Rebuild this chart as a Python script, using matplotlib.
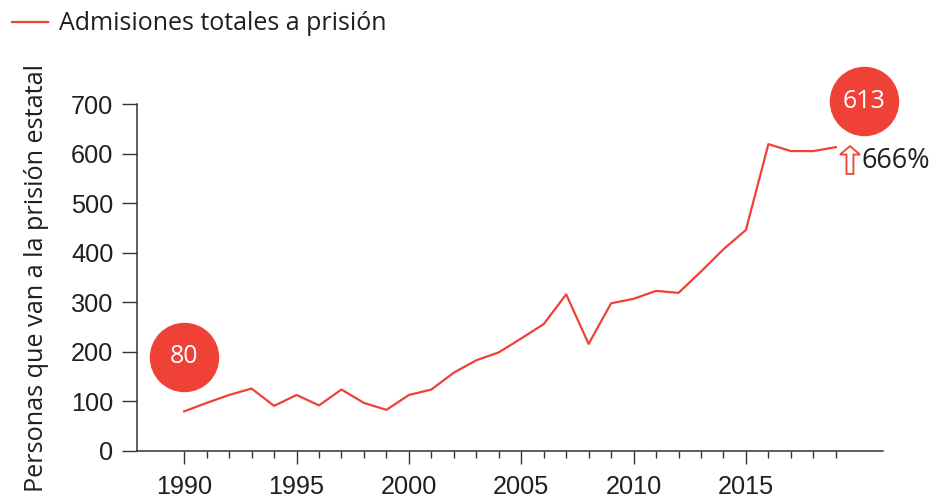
import matplotlib
matplotlib.use("Agg")
import matplotlib.pyplot as plt
import matplotlib.patches as mpatches

# ---- data ----
years = list(range(1990, 2020))
admissions = [80, 97, 113, 126, 91, 113, 92, 124, 97, 83,
              113, 124, 158, 183, 199, 227, 256, 316, 216, 298,
              307, 323, 319, 362, 407, 446, 619, 605, 605, 613]
series_label = "Admisiones totales a prisión"
y_label = "Personas que van a la prisión estatal"
start_label = "80"
end_label = "613"
change_label = "666%"
y_ticks = [0, 100, 200, 300, 400, 500, 600, 700]
x_ticks = [1990, 1995, 2000, 2005, 2010, 2015]

RED = "#EF4136"
DARK = "#1f1f1f"
GEO = ["Open Sans", "DejaVu Sans"]
TICKF = ["Liberation Sans", "DejaVu Sans"]

fig = plt.figure(figsize=(9.34, 5.0), dpi=100)
ax = fig.add_axes([137/934, 1-451/500, (883-137)/934, (451-104)/500])

ax.plot(years, admissions, color=RED, lw=1.6, label=series_label, zorder=3)

ax.set_xlim(1987.9, 2021.1)
ax.set_ylim(0, 700)

for s in ["top", "right"]:
    ax.spines[s].set_visible(False)
for s in ["left", "bottom"]:
    ax.spines[s].set_color("#333333")
    ax.spines[s].set_linewidth(1.1)

ax.set_yticks(y_ticks)
ax.set_xticks(x_ticks)
ax.set_xticks([y for y in years if y not in x_ticks], minor=True)
ax.tick_params(axis="x", which="minor", length=5, width=1, color="#333333")
ax.tick_params(axis="x", which="major", length=9, width=1, color="#333333", pad=8)
ax.tick_params(axis="y", which="major", length=11, width=1, color="#333333", pad=6)
for lab in ax.get_xticklabels() + ax.get_yticklabels():
    lab.set_fontfamily(TICKF)
    lab.set_fontsize(18.2)
    lab.set_color(DARK)

# start / end bubbles
ax.scatter([years[0]], [190], s=2500, color=RED, zorder=4, clip_on=False, linewidths=0)
ax.text(years[0], 190, start_label, color="white", fontsize=18, family=GEO,
        ha="center", va="center", zorder=5)
ax.scatter([2020.26], [706], s=2500, color=RED, zorder=4, clip_on=False, linewidths=0)
ax.text(2020.26, 706, end_label, color="white", fontsize=18, family=GEO,
        ha="center", va="center", zorder=5, clip_on=False)

# hollow up-arrow and change label
arr = mpatches.FancyArrow(2019.63, 559, 0, 56, width=0.31, head_width=0.89,
                          head_length=17, length_includes_head=True,
                          fill=False, edgecolor=RED, lw=1.3, clip_on=False, zorder=4)
ax.add_patch(arr)
ax.text(2020.15, 585, change_label, color=DARK, fontsize=19.5, family=GEO,
        ha="left", va="center", clip_on=False)

# y label
fig.text(37/934, 1-64/500, y_label, rotation=90, ha="center", va="top",
         fontsize=18.2, family=GEO, color=DARK)

# legend
fig.legend(loc="center left", bbox_to_anchor=(12/934, 1-24/500), frameon=False,
           borderpad=0, borderaxespad=0, handlelength=1.45, handletextpad=0.42,
           prop={"family": GEO, "size": 18}, labelcolor=DARK)

fig.savefig("out.png", dpi=100)
